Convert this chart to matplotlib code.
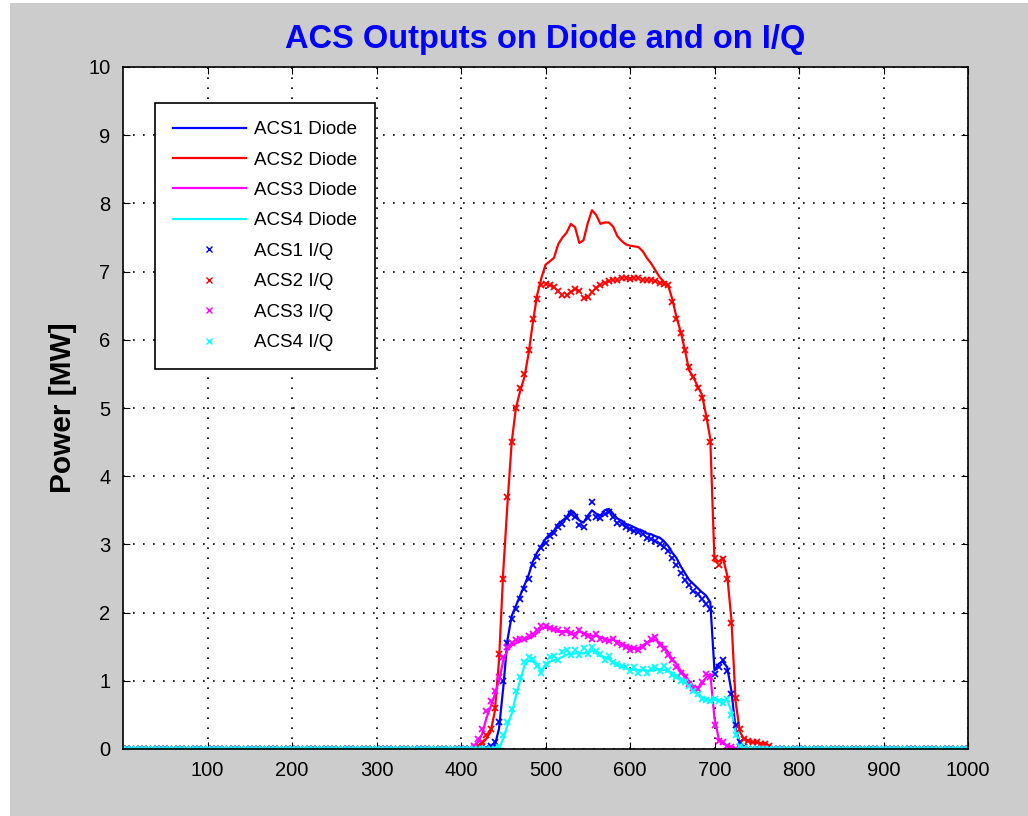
import matplotlib
matplotlib.use('Agg')
import matplotlib.pyplot as plt
import numpy as np
from matplotlib.patches import Rectangle


plt.rcParams['font.family'] = ['Liberation Sans', 'DejaVu Sans']

# samples where the pulse is on (every 5 samples), zero elsewhere
x = np.arange(415, 775, 5)

acs1_diode = [
    0.00, 0.00, 0.00, 0.00, 0.02, 0.05, 0.30, 0.90,
    1.60, 1.95, 2.10, 2.25, 2.40, 2.55, 2.75, 2.88,
    2.98, 3.08, 3.15, 3.20, 3.30, 3.35, 3.40, 3.50,
    3.45, 3.35, 3.32, 3.42, 3.50, 3.45, 3.42, 3.50,
    3.52, 3.45, 3.38, 3.35, 3.30, 3.28, 3.25, 3.22,
    3.20, 3.16, 3.15, 3.12, 3.10, 3.05, 2.98, 2.88,
    2.80, 2.68, 2.58, 2.48, 2.42, 2.36, 2.30, 2.25,
    2.15, 1.15, 1.25, 1.28, 1.20, 0.85, 0.30, 0.08,
    0.02, 0.00, 0.00, 0.00, 0.00, 0.00, 0.00, 0.00]
acs2_diode = [
    0.00, 0.02, 0.08, 0.15, 0.25, 0.55, 1.30, 2.60,
    3.60, 4.50, 5.00, 5.25, 5.45, 5.80, 6.25, 6.65,
    6.90, 7.10, 7.15, 7.20, 7.40, 7.50, 7.57, 7.70,
    7.65, 7.42, 7.46, 7.71, 7.90, 7.83, 7.70, 7.72,
    7.72, 7.66, 7.52, 7.45, 7.40, 7.38, 7.37, 7.36,
    7.30, 7.20, 7.12, 7.02, 6.92, 6.85, 6.80, 6.60,
    6.33, 6.12, 5.85, 5.55, 5.45, 5.32, 5.20, 4.90,
    4.55, 2.75, 2.75, 2.80, 2.55, 1.90, 0.70, 0.25,
    0.15, 0.12, 0.10, 0.10, 0.08, 0.08, 0.05, 0.00]
acs3_diode = [
    0.02, 0.10, 0.22, 0.45, 0.62, 0.80, 1.00, 1.30,
    1.45, 1.52, 1.55, 1.58, 1.60, 1.62, 1.65, 1.70,
    1.76, 1.78, 1.76, 1.74, 1.72, 1.73, 1.72, 1.68,
    1.70, 1.72, 1.70, 1.68, 1.66, 1.66, 1.64, 1.62,
    1.60, 1.60, 1.58, 1.55, 1.52, 1.50, 1.47, 1.48,
    1.52, 1.56, 1.58, 1.60, 1.56, 1.50, 1.42, 1.32,
    1.25, 1.15, 1.08, 1.00, 0.92, 0.90, 0.95, 1.05,
    1.10, 0.45, 0.15, 0.08, 0.05, 0.02, 0.00, 0.00,
    0.00, 0.00, 0.00, 0.00, 0.00, 0.00, 0.00, 0.00]
acs4_diode = [
    0.00, 0.00, 0.00, 0.00, 0.00, 0.00, 0.02, 0.15,
    0.35, 0.52, 0.78, 1.00, 1.22, 1.30, 1.28, 1.25,
    1.15, 1.22, 1.28, 1.30, 1.32, 1.35, 1.38, 1.40,
    1.40, 1.42, 1.40, 1.42, 1.45, 1.40, 1.36, 1.35,
    1.32, 1.26, 1.22, 1.20, 1.18, 1.17, 1.16, 1.16,
    1.16, 1.15, 1.15, 1.16, 1.17, 1.16, 1.14, 1.12,
    1.08, 1.04, 1.00, 0.96, 0.90, 0.82, 0.76, 0.74,
    0.72, 0.72, 0.72, 0.72, 0.72, 0.55, 0.25, 0.08,
    0.02, 0.00, 0.00, 0.00, 0.00, 0.00, 0.00, 0.00]

acs1_iq = [
    0.00, 0.00, 0.00, 0.02, 0.05, 0.10, 0.40, 1.00,
    1.55, 1.90, 2.05, 2.20, 2.35, 2.50, 2.70, 2.82,
    2.95, 3.02, 3.12, 3.16, 3.25, 3.30, 3.38, 3.45,
    3.40, 3.28, 3.25, 3.38, 3.62, 3.40, 3.38, 3.45,
    3.48, 3.40, 3.32, 3.30, 3.25, 3.22, 3.20, 3.18,
    3.15, 3.10, 3.08, 3.05, 3.00, 2.96, 2.90, 2.80,
    2.70, 2.58, 2.48, 2.40, 2.32, 2.28, 2.20, 2.12,
    2.05, 1.10, 1.20, 1.30, 1.15, 0.80, 0.35, 0.10,
    0.03, 0.00, 0.00, 0.00, 0.00, 0.00, 0.00, 0.00]
acs2_iq = [
    0.00, 0.05, 0.10, 0.20, 0.30, 0.60, 1.40, 2.50,
    3.70, 4.50, 5.00, 5.30, 5.50, 5.85, 6.30, 6.60,
    6.80, 6.82, 6.80, 6.78, 6.72, 6.66, 6.65, 6.70,
    6.75, 6.72, 6.62, 6.63, 6.70, 6.76, 6.80, 6.84,
    6.86, 6.88, 6.88, 6.90, 6.90, 6.89, 6.90, 6.90,
    6.88, 6.88, 6.87, 6.86, 6.84, 6.82, 6.80, 6.55,
    6.30, 6.10, 5.85, 5.60, 5.45, 5.30, 5.15, 4.85,
    4.50, 2.80, 2.70, 2.78, 2.50, 1.85, 0.75, 0.30,
    0.15, 0.12, 0.10, 0.10, 0.08, 0.08, 0.05, 0.00]
acs3_iq = [
    0.05, 0.15, 0.30, 0.55, 0.70, 0.85, 1.05, 1.35,
    1.50, 1.55, 1.60, 1.62, 1.62, 1.65, 1.68, 1.75,
    1.80, 1.80, 1.78, 1.76, 1.75, 1.70, 1.74, 1.70,
    1.66, 1.74, 1.68, 1.65, 1.62, 1.68, 1.62, 1.60,
    1.58, 1.62, 1.55, 1.52, 1.50, 1.45, 1.48, 1.45,
    1.50, 1.55, 1.62, 1.64, 1.52, 1.46, 1.38, 1.30,
    1.20, 1.12, 1.05, 0.95, 0.90, 0.88, 0.98, 1.10,
    1.05, 0.35, 0.12, 0.10, 0.05, 0.03, 0.00, 0.00,
    0.00, 0.00, 0.00, 0.00, 0.00, 0.00, 0.00, 0.00]
acs4_iq = [
    0.00, 0.00, 0.00, 0.00, 0.00, 0.00, 0.03, 0.20,
    0.40, 0.58, 0.85, 1.05, 1.28, 1.35, 1.32, 1.22,
    1.12, 1.25, 1.35, 1.36, 1.30, 1.42, 1.45, 1.38,
    1.45, 1.38, 1.48, 1.40, 1.50, 1.44, 1.40, 1.30,
    1.36, 1.28, 1.25, 1.22, 1.20, 1.14, 1.20, 1.12,
    1.18, 1.12, 1.18, 1.20, 1.14, 1.22, 1.16, 1.08,
    1.05, 1.00, 0.98, 0.92, 0.85, 0.80, 0.74, 0.72,
    0.70, 0.74, 0.70, 0.68, 0.74, 0.50, 0.20, 0.05,
    0.02, 0.00, 0.00, 0.00, 0.00, 0.00, 0.00, 0.00]

names = ['ACS1', 'ACS2', 'ACS3', 'ACS4']
colors = ['#0000ff', '#ff0000', '#ff00ff', '#00ffff']

base_left = np.arange(0, 415, 5)
base_right = np.arange(775, 1001, 5)


def full(vals):
    xs = np.concatenate([base_left, x, base_right])
    ys = np.concatenate([np.zeros(len(base_left)), vals,
                         np.zeros(len(base_right))])
    return xs, ys


fig = plt.figure(figsize=(10.28, 8.16), dpi=100, facecolor='white')
fig.patches.append(Rectangle((10 / 1028, 0), 1 - 10 / 1028, 1 - 3 / 816,
                             transform=fig.transFigure, facecolor='#cccccc',
                             edgecolor='none', zorder=-10))
ax = fig.add_axes([123 / 1028, 67 / 816, 845 / 1028, 682 / 816])
ax.set_facecolor('white')

for name, c, d in zip(names, colors,
                      [acs1_diode, acs2_diode, acs3_diode, acs4_diode]):
    ax.plot(*full(d), '-', color=c, lw=1.6, label=name + ' Diode')

for name, c, q in zip(names, colors, [acs1_iq, acs2_iq, acs3_iq, acs4_iq]):
    ax.plot(*full(q), 'x', color=c, ms=5, mew=1.3, label=name + ' I/Q')

ax.set_xlim(0, 1000)
ax.set_ylim(0, 10)
ax.set_xticks(range(100, 1001, 100))
ax.set_yticks(range(0, 11))
ax.grid(True, color='black', linestyle=(0, (1, 5)), lw=1.2)
ax.tick_params(direction='in', length=5, top=True, right=True,
               labelsize=14.5, pad=9)
for s in ax.spines.values():
    s.set_linewidth(1.2)

ax.set_title('ACS Outputs on Diode and on I/Q', color='#0000ff',
             fontsize=23.5, fontweight='bold', pad=14)
ax.set_ylabel('Power [MW]', fontsize=21.5, fontweight='bold', labelpad=8)

leg = ax.legend(loc='upper left', bbox_to_anchor=(0.038, 0.947),
                borderaxespad=0, fontsize=13.5, handlelength=3.9,
                handletextpad=0.45, labelspacing=0.71, borderpad=0.95,
                numpoints=1, fancybox=False, framealpha=1)
leg.get_frame().set_edgecolor('black')
leg.get_frame().set_linewidth(1.2)
for h in leg.legend_handles[4:]:
    h.set_markersize(4)
    h.set_markeredgewidth(1.0)

fig.savefig('out.png', dpi=100, facecolor=fig.get_facecolor())
